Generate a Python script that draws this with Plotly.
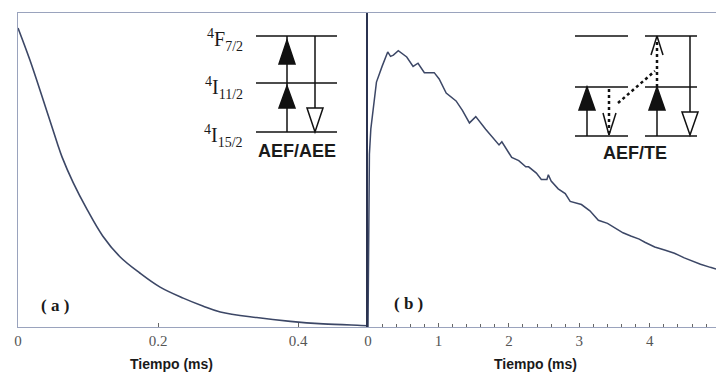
import plotly.graph_objects as go

# ---------------- data ----------------
# Panel (a): decay (AEF/AEE), time in ms, normalized intensity
t_a = [0.0, 0.017, 0.036, 0.056, 0.063, 0.079, 0.099, 0.121, 0.146, 0.174,
       0.203, 0.236, 0.264, 0.289, 0.341, 0.389, 0.436, 0.49, 0.5]
i_a = [0.952, 0.85, 0.723, 0.586, 0.541, 0.459, 0.373, 0.29, 0.223, 0.172,
       0.127, 0.092, 0.067, 0.048, 0.03, 0.018, 0.01, 0.005, 0.004]

# Panel (b): rise + decay (AEF/TE)
t_b = [0.0, 0.01, 0.02, 0.04, 0.07, 0.12, 0.2, 0.28, 0.32, 0.36, 0.43, 0.5,
       0.55, 0.64, 0.71, 0.8, 0.94, 1.01, 1.11, 1.25, 1.34, 1.44, 1.53,
       1.67, 1.79, 1.86, 1.9, 2.04, 2.14, 2.24, 2.28, 2.39, 2.46, 2.54,
       2.56, 2.6, 2.7, 2.8, 2.87, 3.03, 3.15, 3.27, 3.4, 3.51, 3.62, 3.73,
       3.85, 3.93, 4.07, 4.21, 4.35, 4.49, 4.6, 4.72, 4.86, 4.94]
i_b = [0.0, 0.3, 0.55, 0.63, 0.68, 0.78, 0.83, 0.876, 0.862, 0.866, 0.88,
       0.868, 0.86, 0.83, 0.84, 0.81, 0.81, 0.79, 0.745, 0.72, 0.69, 0.65,
       0.67, 0.63, 0.60, 0.58, 0.59, 0.54, 0.53, 0.51, 0.51, 0.49, 0.47,
       0.47, 0.485, 0.465, 0.44, 0.425, 0.40, 0.39, 0.37, 0.34, 0.33, 0.315,
       0.30, 0.29, 0.28, 0.27, 0.255, 0.245, 0.235, 0.22, 0.21, 0.20, 0.19,
       0.185]

ticks_a = [0, 0.2, 0.4]
ticklabels_a = ["0", "0.2", "0.4"]
ticks_b = [0, 1, 2, 3, 4]
ticklabels_b = ["0", "1", "2", "3", "4"]

# ---------------- layout geometry ----------------
W, H = 716, 379
ML, MR, MT, MB = 18, 0, 13, 52
PW, PH = W - ML - MR, H - MT - MB
SPLIT = (368 - ML) / PW


def P(px, py):
    return (px - ML) / PW, (H - MB - py) / PH


LINE = "#3c4766"
FRAME = "#9aa3bd"

fig = go.Figure()
fig.add_trace(go.Scatter(x=t_a, y=i_a, mode="lines", xaxis="x", yaxis="y",
                         line=dict(color=LINE, width=1.6, shape="spline"),
                         showlegend=False))
fig.add_trace(go.Scatter(x=t_b, y=i_b, mode="lines", xaxis="x2", yaxis="y2",
                         line=dict(color=LINE, width=1.5),
                         showlegend=False))

tickfont = dict(family="Liberation Serif", size=15, color="#555555")
common_x = dict(showgrid=False, zeroline=False, showline=True, linecolor=FRAME,
                linewidth=1, mirror=True, ticks="inside", ticklen=4,
                tickcolor="#666666", tickfont=tickfont)

fig.update_layout(
    width=W, height=H,
    margin=dict(l=ML, r=MR, t=MT, b=MB, autoexpand=False),
    paper_bgcolor="white", plot_bgcolor="white",
    xaxis=dict(domain=[0, SPLIT], range=[0, 0.5], tickvals=ticks_a,
               ticktext=ticklabels_a, **common_x),
    yaxis=dict(domain=[0, 1], range=[0, 1], showticklabels=False, ticks="",
               showgrid=False, zeroline=False, showline=True, linecolor=FRAME,
               linewidth=1),
    xaxis2=dict(domain=[SPLIT, 1], range=[0, 4.94], tickvals=ticks_b,
                ticktext=ticklabels_b,
                minor=dict(dtick=0.2, ticks="inside", ticklen=3,
                           tickcolor="#666666"),
                **common_x),
    yaxis2=dict(domain=[0, 1], range=[0, 1], anchor="x2", showticklabels=False,
                ticks="", showgrid=False, zeroline=False, showline=True,
                linecolor="#2b3350", linewidth=2),
)

shapes = []
annotations = []


def seg(x0, y0, x1, y1, width=1.5, dash="solid", color="#111111"):
    a, b = P(x0, y0)
    c, d = P(x1, y1)
    shapes.append(dict(type="line", xref="paper", yref="paper", x0=a, y0=b,
                       x1=c, y1=d, line=dict(color=color, width=width,
                                             dash=dash)))


def tri(cx, ytip, ybase, hw, filled=True):
    pts = [P(cx - hw, ybase), P(cx, ytip), P(cx + hw, ybase)]
    path = "M {} {} L {} {} L {} {} Z".format(pts[0][0], pts[0][1], pts[1][0],
                                               pts[1][1], pts[2][0], pts[2][1])
    shapes.append(dict(type="path", xref="paper", yref="paper", path=path,
                       fillcolor="#111111" if filled else "white",
                       line=dict(color="#111111", width=1.5)))


def text(px, py, s, size, family, xanchor="center"):
    x, y = P(px, py)
    annotations.append(dict(xref="paper", yref="paper", x=x, y=y, text=s,
                            showarrow=False, xanchor=xanchor, yanchor="middle",
                            font=dict(family=family, size=size,
                                      color="#1a1a1a")))


# ----- panel (a) energy diagram -----
for py in (36, 83, 132):
    seg(256, py, 337, py)
seg(287, 132, 287, 36)
tri(287, 40, 64, 8)
tri(287, 86, 108, 8)
seg(315, 36, 315, 110)
tri(315, 132, 108, 8, filled=False)
text(245, 40, "<sup>4</sup>F<sub>7/2</sub>", 20, "Liberation Serif", xanchor="right")
text(245, 88, "<sup>4</sup>I<sub>11/2</sub>", 20, "Liberation Serif", xanchor="right")
text(245, 136, "<sup>4</sup>I<sub>15/2</sub>", 20, "Liberation Serif", xanchor="right")
text(297, 151, "<b>AEF/AEE</b>", 18, "Liberation Sans")

# ----- panel (b) energy diagram -----
for py in (36, 87, 136):
    seg(575, py, 628, py)
    seg(645, py, 697, py)
seg(587, 136, 587, 100)
tri(587, 87, 110, 8)
seg(609, 89, 609, 133, width=2.5, dash="dot")
seg(603, 113, 609, 135)
seg(616, 113, 609, 135)
seg(618, 103, 655, 71, width=2.5, dash="dot")
seg(657, 136, 657, 100)
tri(657, 87, 110, 8)
seg(657, 87, 657, 40, width=2.5, dash="dot")
seg(651, 55, 657, 36)
seg(663, 55, 657, 36)
seg(690, 36, 690, 114)
tri(690, 135, 112, 8, filled=False)
text(635, 153, "<b>AEF/TE</b>", 18, "Liberation Sans")

# ----- panel labels and axis titles -----
text(55, 305, "<b>( a )</b>", 17, "Liberation Serif")
text(408, 303, "<b>( b )</b>", 17, "Liberation Serif")
text(171, 364, "<b>Tiempo (ms)</b>", 14, "Liberation Sans")
text(535, 364, "<b>Tiempo (ms)</b>", 14, "Liberation Sans")

fig.update_layout(shapes=shapes, annotations=annotations)
fig.write_html("out.html",
               config={"displayModeBar": False},
               post_script="document.body.style.margin='0';"
                           "document.body.style.overflow='hidden';")
